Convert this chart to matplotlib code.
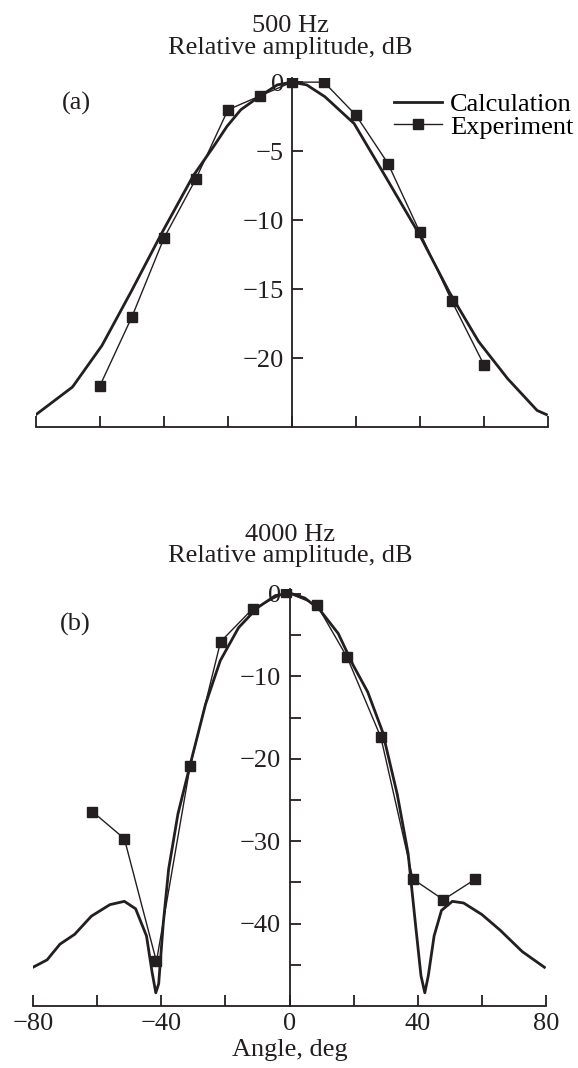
import matplotlib.pyplot as plt
from matplotlib.ticker import FixedLocator

plt.rcParams['font.family'] = ['Liberation Serif', 'DejaVu Serif']

INK = '#231f20'
FS = 19

# 500 Hz: calculated directivity
calc_500_angle = [-80, -68.6, -59.4, -50.3, -40.6, -30.9, -24.6, -20.3, -16, -10.3, -4.6, 0,
                  4.6, 10.3, 19.4, 28.6, 39.7, 49.1, 58.3, 67.4, 76.6, 79.5]
calc_500_db = [-24.1, -22.1, -19.1, -15.2, -10.9, -6.8, -4.7, -3.2, -2.0, -1.06, -0.2, 0,
               -0.2, -1.06, -3.0, -6.6, -11.0, -15.2, -18.8, -21.5, -23.8, -24.1]

# 500 Hz: measured
exp_500_angle = [-60, -50, -40, -30, -20, -10, 0, 10, 20, 30, 40, 50, 60]
exp_500_db = [-22, -17, -11.3, -7, -2, -1, 0, 0, -2.4, -5.9, -10.9, -15.9, -20.5]

# 4000 Hz: calculated directivity
calc_4k_angle = [-80, -75.6, -71.6, -67, -61.8, -56, -51.5, -48, -44.6, -42.9, -41.7, -40.8,
                 -39.4, -37.7, -34.8, -31.1, -26.2, -21.6, -15.9, -10.1, -4.4, 0.2,
                 4.8, 9.4, 15.2, 19.8, 24.4, 29, 33.6, 37, 39.3, 41, 42.2, 43.3, 45.1,
                 47.4, 50.8, 54.3, 60, 65.7, 72.6, 79.5]
calc_4k_db = [-45.3, -44.4, -42.5, -41.3, -39.1, -37.7, -37.3, -38.2, -41.5, -45.8, -48.4, -47.3,
              -40.1, -33.4, -26.7, -20.9, -13.4, -8.1, -4.1, -1.7, -0.2, 0.1,
              -0.5, -1.9, -4.8, -8.6, -11.9, -16.7, -24.3, -31.5, -40.1, -46.3, -48.4, -46.3, -41.5,
              -38.4, -37.3, -37.5, -38.9, -40.8, -43.4, -45.3]

# 4000 Hz: measured
exp_4k_angle = [-61.5, -51.5, -41.5, -31, -21.5, -11.5, -1, 8.5, 18, 28.5, 38.5, 48, 58]
exp_4k_db = [-26.4, -29.7, -44.6, -20.9, -5.8, -1.8, 0.2, -1.3, -7.7, -17.4, -34.6, -37.1, -34.6]

x_ticks = [-80, -60, -40, -20, 0, 20, 40, 60, 80]
x_labels = ['\u221280', '', '\u221240', '', '0', '', '40', '', '80']

W, H = 578, 1068
fig = plt.figure(figsize=(W / 100, H / 100), dpi=100)


def box(x0, x1, ytop, ybot):
    return [x0 / W, 1 - ybot / H, (x1 - x0) / W, (ybot - ytop) / H]


def ftext(x, y, s, **kw):
    fig.text(x / W, 1 - y / H, s, fontsize=FS, color=INK, ha='center', va='baseline', **kw)


def style(ax, ylim, yticks, ylabels):
    ax.set_xlim(-80, 80)
    ax.set_ylim(*ylim)
    for s in ['top', 'right']:
        ax.spines[s].set_visible(False)
    ax.spines['left'].set_position(('data', 0))
    for s in ['left', 'bottom']:
        ax.spines[s].set_linewidth(1.3)
        ax.spines[s].set_color(INK)
    ax.xaxis.set_major_locator(FixedLocator(x_ticks))
    ax.yaxis.set_major_locator(FixedLocator(yticks))
    ax.set_yticklabels(ylabels)
    ax.tick_params(axis='both', direction='in', length=8, width=1.3, color=INK,
                   labelsize=FS, labelcolor=INK)
    ax.tick_params(axis='y', pad=6)
    ax.tick_params(axis='x', pad=5)
    ax.patch.set_alpha(0)


# (a) 500 Hz
ax1 = fig.add_axes(box(36, 548, 78, 427))
ax1.plot(calc_500_angle, calc_500_db, color=INK, lw=2.0, label='Calculation')
ax1.plot(exp_500_angle, exp_500_db, color=INK, lw=1.0, marker='s', ms=7.5,
         label='Experiment')
style(ax1, (-25, 0.3), [0, -5, -10, -15, -20],
      ['0', '\u22125', '\u221210', '\u221215', '\u221220'])
ax1.set_xticklabels([])
ax1.legend(loc='upper right', bbox_to_anchor=(1.075, 0.995), frameon=False, fontsize=FS,
           handlelength=1.8, handletextpad=0.3, labelspacing=-0.05, borderpad=0)

# (b) 4000 Hz
ax2 = fig.add_axes(box(33, 546, 589, 1006))
ax2.plot(calc_4k_angle, calc_4k_db, color=INK, lw=2.0)
ax2.plot(exp_4k_angle, exp_4k_db, color=INK, lw=1.0, marker='s', ms=7.5)
yt = [0, -5, -10, -15, -20, -25, -30, -35, -40, -45]
style(ax2, (-50, 0.6), yt,
      ['0' if v == 0 else ('\u2212%d' % -v if v % 10 == 0 else '') for v in yt])
ax2.set_xticklabels(x_labels)

ftext(290, 32, '500 Hz')
ftext(290, 54, 'Relative amplitude, dB')
ftext(76, 110, '(a)')
ftext(290, 541, '4000 Hz')
ftext(290, 562, 'Relative amplitude, dB')
ftext(75, 631, '(b)')
ftext(290, 1056, 'Angle, deg')

fig.savefig('out.png', dpi=100)
